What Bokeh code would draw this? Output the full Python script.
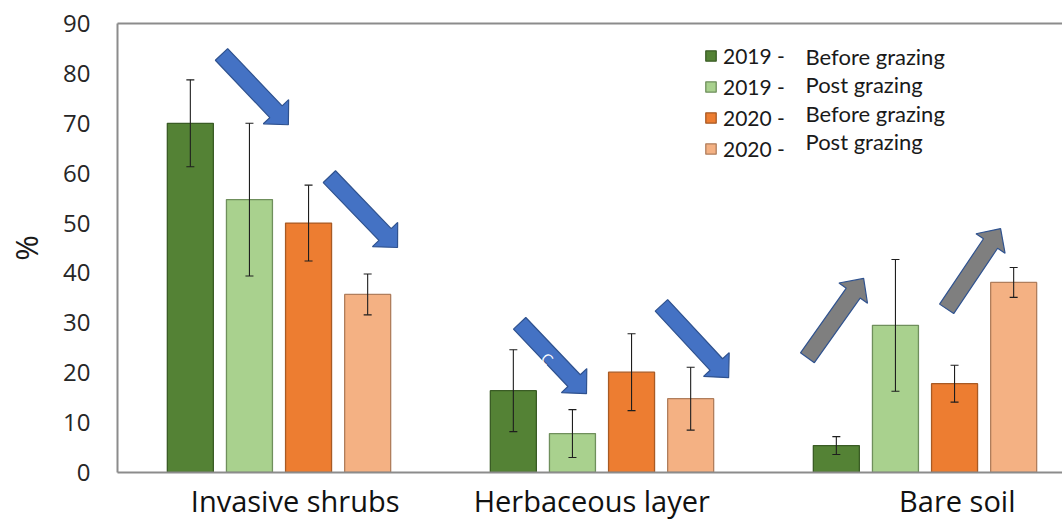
import numpy as np
from bokeh.plotting import figure
from bokeh.models import (ColumnDataSource, Whisker, TeeHead, Legend, LegendItem,
                          Label, FixedTicker, LinearAxis, Range1d)
from bokeh.embed import file_html
from bokeh.resources import INLINE

# ---- data -------------------------------------------------------------
categories = ["Invasive shrubs", "Herbaceous  layer", "Bare soil"]
series_year = ["2019 -", "2019 -", "2020 -", "2020 -"]
series_phase = ["Before grazing", "Post grazing", "Before grazing", "Post grazing"]

mean_2019_before = [70.0, 16.4, 5.4]
mean_2019_post = [54.7, 7.8, 29.5]
mean_2020_before = [50.0, 20.1, 17.8]
mean_2020_post = [35.7, 14.8, 38.1]

err_2019_before = [8.7, 8.2, 1.8]
err_2019_post = [15.3, 4.8, 13.2]
err_2020_before = [7.6, 7.7, 3.7]
err_2020_post = [4.1, 6.3, 3.0]

y_ticks = [0, 10, 20, 30, 40, 50, 60, 70, 80, 90]

# ---- styling ----------------------------------------------------------
fill_colors = ["#548235", "#A9D18E", "#ED7D31", "#F4B183"]
edge_colors = ["#3A5C25", "#6F8F5C", "#A85A24", "#B07E5C"]
axis_grey = "#8C8C8C"

W, H = 1062, 524
LEFT, TOP, BOTTOM = 117, 23, 52
frame_w = W - LEFT
frame_h = H - TOP - BOTTOM
group_px = 323.0                 # width of one category slot in pixels
x_end = frame_w / group_px
y_max = 90

bar_step = 0.183                  # distance between neighbouring bars (category units)
bar_width = 0.1424
label_shift = [0.05, -0.02, 0.10] # category label offsets from the group centre

means = [mean_2019_before, mean_2019_post, mean_2020_before, mean_2020_post]
errs = [err_2019_before, err_2019_post, err_2020_before, err_2020_post]

p = figure(width=W, height=H, output_backend="svg", toolbar_location=None,
           x_range=Range1d(0, x_end), y_range=Range1d(0, y_max),
           min_border_left=LEFT, min_border_top=TOP, min_border_bottom=BOTTOM,
           min_border_right=0, outline_line_color=None)
p.xgrid.visible = False
p.ygrid.visible = False
p.background_fill_color = "white"
p.border_fill_color = "white"

sx = frame_w / x_end
sy = frame_h / y_max

renderers = []
for k in range(4):
    xs = [i + 0.5 + (k - 1.5) * bar_step for i in range(len(categories))]
    top = means[k]
    src = ColumnDataSource(dict(
        x=xs, top=top,
        upper=[t + e for t, e in zip(top, errs[k])],
        lower=[t - e for t, e in zip(top, errs[k])]))
    r = p.vbar(x="x", top="top", width=bar_width, source=src,
               fill_color=fill_colors[k], line_color=edge_colors[k], line_width=1.3)
    renderers.append(r)
    w = Whisker(source=src, base="x", upper="upper", lower="lower",
                line_color="#1E1E1E", line_width=1.1, level="annotation",
                upper_head=TeeHead(size=8, line_color="#1E1E1E", line_width=1.1),
                lower_head=TeeHead(size=8, line_color="#1E1E1E", line_width=1.1))
    p.add_layout(w)

# ---- trend arrows (tail -> tip, in data units) ---------------------------
trend_arrows = [
    ((0.322, 83.8), (0.529, 69.7), "#4472C4"),
    ((0.656, 59.3), (0.867, 45.1), "#4472C4"),
    ((1.245, 29.9), (1.452, 15.8), "#4472C4"),
    ((1.684, 33.5), (1.892, 19.0), "#4472C4"),
    ((2.136, 23.0), (2.310, 38.9), "#7F7F7F"),
    ((2.567, 32.8), (2.734, 48.9), "#7F7F7F"),
]
shaft_w, head_w, head_l = 17.0, 35.0, 18.0

arr_xs, arr_ys, arr_fill = [], [], []
for (t, h, c) in trend_arrows:
    tail = np.array([t[0] * sx, t[1] * sy])
    tip = np.array([h[0] * sx, h[1] * sy])
    d = tip - tail
    u = d / np.linalg.norm(d)
    n = np.array([-u[1], u[0]])
    neck = tip - u * head_l
    pts = [tail + n * shaft_w / 2, neck + n * shaft_w / 2, neck + n * head_w / 2,
           tip, neck - n * head_w / 2, neck - n * shaft_w / 2, tail - n * shaft_w / 2]
    arr_xs.append([float(q[0] / sx) for q in pts])
    arr_ys.append([float(q[1] / sy) for q in pts])
    arr_fill.append(c)

p.patches(xs=arr_xs, ys=arr_ys, fill_color=arr_fill, line_color="#2F528F",
          line_width=1.2, level="overlay")

p.add_layout(Label(x=1.331, y=22.85, text="C", text_color="white",
                   text_font="Open Sans", text_font_size="15px",
                   angle=-0.8, text_align="center", text_baseline="middle",
                   level="overlay"))

# ---- axes -------------------------------------------------------------
ya = p.yaxis[0]
ya.ticker = FixedTicker(ticks=y_ticks)
ya.axis_line_color = axis_grey
ya.axis_line_width = 2
ya.major_tick_line_color = None
ya.minor_tick_line_color = None
ya.major_label_text_font = "Open Sans"
ya.major_label_text_font_size = "24px"
ya.major_label_text_color = "#262626"
ya.major_label_standoff = 21
ya.axis_label = "%"
ya.axis_label_text_font = "Open Sans"
ya.axis_label_text_font_size = "31px"
ya.axis_label_text_font_style = "normal"
ya.axis_label_text_color = "#1A1A1A"
ya.axis_label_standoff = 13

label_pos = [round(i + 0.5 + s, 3) for i, s in enumerate(label_shift)]
xa = p.xaxis[0]
xa.ticker = FixedTicker(ticks=label_pos)
xa.major_label_overrides = {x: c for x, c in zip(label_pos, categories)}
xa.axis_line_color = axis_grey
xa.axis_line_width = 2
xa.major_tick_line_color = None
xa.minor_tick_line_color = None
xa.major_label_text_font = "Open Sans"
xa.major_label_text_font_size = "29px"
xa.major_label_text_color = "#111111"
xa.major_label_standoff = 2

top_axis = LinearAxis(ticker=FixedTicker(ticks=[]), axis_line_color=axis_grey,
                      axis_line_width=2, major_tick_line_color=None,
                      minor_tick_line_color=None, major_label_text_font_size="0px")
p.add_layout(top_axis, "above")

# ---- legend -----------------------------------------------------------
legend = Legend(items=[LegendItem(label=series_year[k], renderers=[renderers[k]])
                       for k in range(4)],
                location=(587, 311), orientation="vertical",
                glyph_width=13, glyph_height=13, label_standoff=6,
                label_text_font="Lato", label_text_font_size="21px",
                label_text_color="#1A1A1A", spacing=6, padding=0, margin=0,
                border_line_color=None, background_fill_alpha=0)
p.add_layout(legend)

row_px = [56, 84, 113, 141]
for k, py in enumerate(row_px):
    p.add_layout(Label(x=(805 - LEFT) / sx, y=(frame_h - (py - TOP)) / sy,
                       text=series_phase[k], text_font="Lato",
                       text_font_size="22px", text_color="#1A1A1A",
                       text_baseline="middle", text_align="left"))

open("out.html", "w").write(file_html(p, INLINE))
